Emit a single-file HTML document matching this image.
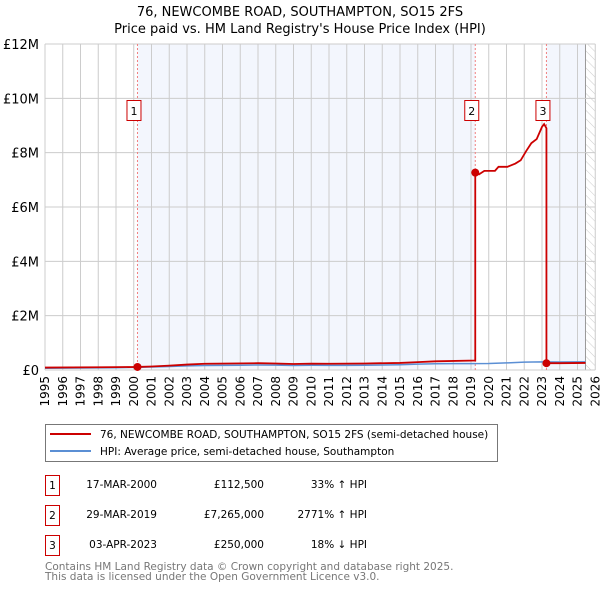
<!DOCTYPE html>
<html><head><meta charset="utf-8"><style>
body{margin:0;background:#fff;font-family:"DejaVu Sans","Liberation Sans",sans-serif;}
svg text{font-family:"DejaVu Sans","Liberation Sans",sans-serif;}
</style></head><body>
<svg id="c" width="600" height="590" xmlns="http://www.w3.org/2000/svg">
<defs><pattern id="hatch" width="6" height="6" patternUnits="userSpaceOnUse" patternTransform="rotate(-45)"><line x1="0" y1="0" x2="0" y2="6" stroke="#ccc" stroke-width="1"/></pattern></defs>
<text x="300" y="16" text-anchor="middle" font-size="13">76, NEWCOMBE ROAD, SOUTHAMPTON, SO15 2FS</text>
<text x="300" y="33" text-anchor="middle" font-size="13">Price paid vs. HM Land Registry's House Price Index (HPI)</text>
<g id="plot"></g>
<g>
<rect x="45.5" y="424.5" width="452" height="37" fill="#fff" stroke="#777"/>
<line x1="50" y1="434" x2="91" y2="434" stroke="#c00" stroke-width="2"/>
<text x="100" y="438" font-size="10.5">76, NEWCOMBE ROAD, SOUTHAMPTON, SO15 2FS (semi-detached house)</text>
<line x1="50" y1="451" x2="91" y2="451" stroke="#5b8fd4" stroke-width="2"/>
<text x="100" y="455" font-size="10.5">HPI: Average price, semi-detached house, Southampton</text>
</g>
<g font-size="10.5">
<rect x="45.5" y="475.5" width="14" height="20" fill="#fff" stroke="#c00"/><text x="52.5" y="489" text-anchor="middle">1</text>
<text x="157" y="488" text-anchor="end">17-MAR-2000</text><text x="264" y="488" text-anchor="end">£112,500</text><text x="367" y="488" text-anchor="end">33% ↑ HPI</text>
<rect x="45.5" y="505.5" width="14" height="20" fill="#fff" stroke="#c00"/><text x="52.5" y="519" text-anchor="middle">2</text>
<text x="157" y="518" text-anchor="end">29-MAR-2019</text><text x="264" y="518" text-anchor="end">£7,265,000</text><text x="367" y="518" text-anchor="end">2771% ↑ HPI</text>
<rect x="45.5" y="535.5" width="14" height="20" fill="#fff" stroke="#c00"/><text x="52.5" y="549" text-anchor="middle">3</text>
<text x="157" y="548" text-anchor="end">03-APR-2023</text><text x="264" y="548" text-anchor="end">£250,000</text><text x="367" y="548" text-anchor="end">18% ↓ HPI</text>
</g>
<text x="45" y="570" font-size="10.5" fill="#777">Contains HM Land Registry data © Crown copyright and database right 2025.</text>
<text x="45" y="580" font-size="10.5" fill="#777">This data is licensed under the Open Government Licence v3.0.</text>
</svg>
<script>
const yTicks=[0,2,4,6,8,10,12];
const yTickLabels=["£0","£2M","£4M","£6M","£8M","£10M","£12M"];
const years=[1995,1996,1997,1998,1999,2000,2001,2002,2003,2004,2005,2006,2007,2008,2009,2010,2011,2012,2013,2014,2015,2016,2017,2018,2019,2020,2021,2022,2023,2024,2025,2026];
const hpiX=[1995,1996,1997,1998,1999,2000,2001,2002,2003,2004,2005,2006,2007,2008,2009,2010,2011,2012,2013,2014,2015,2016,2017,2018,2019,2020,2021,2022,2023,2024,2025,2025.45];
const hpiY=[0.065,0.067,0.072,0.078,0.085,0.095,0.11,0.13,0.15,0.165,0.17,0.175,0.185,0.18,0.165,0.175,0.172,0.172,0.175,0.185,0.195,0.215,0.23,0.235,0.235,0.24,0.26,0.29,0.30,0.295,0.30,0.30];
const redX=[1995,1998,1999,2000.21,2001,2002,2003,2004,2007,2008,2009,2010,2011,2013,2015,2016,2017,2019.24,2019.24,2019.45,2019.75,2020.35,2020.55,2021.05,2021.5,2021.8,2022.1,2022.4,2022.7,2023.0,2023.12,2023.25,2023.25,2024,2025.45];
const redY=[0.09,0.1,0.105,0.1125,0.13,0.16,0.2,0.23,0.25,0.24,0.22,0.235,0.23,0.24,0.26,0.29,0.32,0.35,7.265,7.2,7.33,7.33,7.48,7.48,7.6,7.72,8.05,8.35,8.5,8.95,9.05,8.9,0.25,0.25,0.26];
const saleX=[2000.21,2019.24,2023.25];
const saleY=[0.1125,7.265,0.25];
const saleLabels=["1","2","3"];
const shadeFrom=[2000.21,2023.25];
const shadeTo=[2019.24,2025.45];
const X0=45,X1=595.25,Y0=370,Y1=44;
const x=v=>X0+(v-1995)/(2026-1995)*(X1-X0);
const y=v=>Y0-v/12*(Y0-Y1);
const NS="http://www.w3.org/2000/svg";
const g=document.getElementById('plot');
function mk(t,a){const e=document.createElementNS(NS,t);for(const k in a)e.setAttribute(k,a[k]);g.appendChild(e);return e;}
let e;
shadeFrom.forEach((s,i)=>{
 e=mk('rect',{x:x(s),y:Y1,width:x(shadeTo[i])-x(s),height:Y0-Y1,fill:'#f3f6fd'});
 
 
});
e=mk('rect',{x:x(2025.45),y:Y1,width:X1-x(2025.45),height:Y0-Y1,fill:'url(#hatch)'});


years.forEach(yr=>{
 e=mk('line',{x1:x(yr),x2:x(yr),y1:Y1,y2:Y0,stroke:'#ccc'});
 
 
 e=mk('text',{x:x(yr)+4,y:Y0+6,'font-size':12,transform:`rotate(-90 ${x(yr)+4} ${Y0+6})`,'text-anchor':'end'});
 e.textContent=yr;
 
 
});
e=mk('line',{x1:x(2025.45),x2:x(2025.45),y1:Y1,y2:Y0,stroke:'#999'});


yTicks.forEach((t,i)=>{
 e=mk('line',{x1:X0,x2:X1,y1:y(t),y2:y(t),stroke:'#ccc'});
 
 
 e=mk('text',{x:X0-6,y:y(t)+5,'font-size':13,'text-anchor':'end'});
 e.textContent=yTickLabels[i];
 
 
});
saleX.forEach((s,i)=>{
 e=mk('line',{x1:x(s),x2:x(s),y1:Y1,y2:Y0,stroke:'#f08080','stroke-dasharray':'2,2'});
 
 
});
e=mk('polyline',{points:hpiX.map((v,i)=>x(v)+','+y(hpiY[i])).join(' '),fill:'none',stroke:'#5b8fd4','stroke-width':1.5});


e=mk('polyline',{points:redX.map((v,i)=>x(v)+','+y(redY[i])).join(' '),fill:'none',stroke:'#c00','stroke-width':1.8});


saleX.forEach((s,i)=>{
 e=mk('circle',{cx:x(s),cy:y(saleY[i]),r:4,fill:'#c00'});
 
 
 e=mk('rect',{x:x(s)-10.5,y:100.5,width:14,height:20,fill:'#fff',stroke:'#c00'});
 
 
 e=mk('text',{x:x(s)-3.5,y:115,'font-size':11,'text-anchor':'middle'});
 e.textContent=saleLabels[i];
 
 
});
</script>
</body></html>
